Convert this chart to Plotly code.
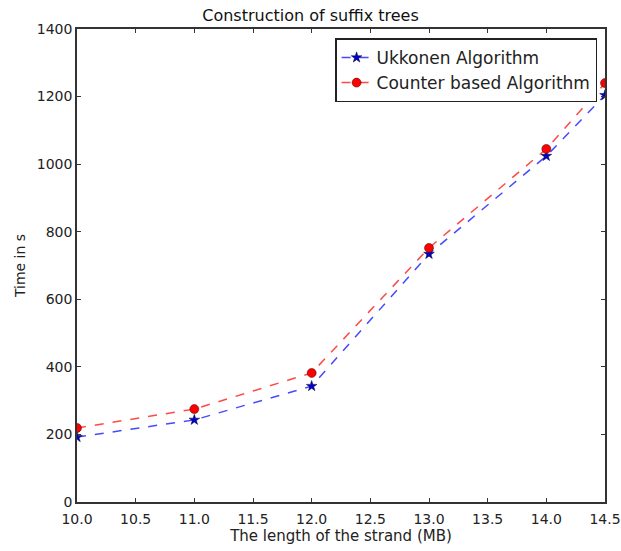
import plotly.graph_objects as go

x_len = [10, 11, 12, 13, 14, 14.5]
ukkonen = [192, 243, 343, 734, 1024, 1204]
counter = [219, 275, 382, 752, 1045, 1240]
x_ticks = [10.0, 10.5, 11.0, 11.5, 12.0, 12.5, 13.0, 13.5, 14.0, 14.5]
y_ticks = [0, 200, 400, 600, 800, 1000, 1200, 1400]

fig = go.Figure()
fig.add_trace(go.Scatter(
    x=x_len, y=ukkonen, mode="lines+markers", name="Ukkonen Algorithm",
    line=dict(color="rgba(40,40,255,0.85)", dash="dash", width=1.5),
    marker=dict(symbol="star", size=8, color="#0000cc", line=dict(color="#000033", width=0.5)),
))
fig.add_trace(go.Scatter(
    x=x_len, y=counter, mode="lines+markers", name="Counter based Algorithm",
    line=dict(color="rgba(255,40,40,0.85)", dash="dash", width=1.5),
    marker=dict(symbol="circle", size=9, color="#ff0000", line=dict(color="#330000", width=0.5)),
))

axis_common = dict(
    showline=True, linecolor="#333333", linewidth=1.5, mirror="ticks",
    ticks="inside", ticklen=4, tickcolor="#333333", showgrid=False, zeroline=False,
    automargin=False,
    tickfont=dict(family="DejaVu Sans", size=14, color="#222222"),
)
fig.update_xaxes(range=[10, 14.5], tickvals=x_ticks, ticktext=[f"{v:.1f}" for v in x_ticks],
                 ticklabelstandoff=3,
                 title=dict(text="The length of the strand (MB)", font=dict(family="DejaVu Sans", size=15, color="#222222"), standoff=5),
                 **axis_common)
fig.update_yaxes(range=[0, 1400], tickvals=y_ticks,
                 title=dict(text="Time in s", font=dict(family="DejaVu Sans", size=14, color="#222222"), standoff=8),
                 **axis_common)
fig.update_layout(
    width=621, height=551,
    margin=dict(l=77, r=16, t=29, b=49),
    paper_bgcolor="white", plot_bgcolor="white",
    title=dict(text="Construction of suffix trees", x=0.5, xanchor="center", y=1 - 15 / 551, yanchor="middle",
               font=dict(family="DejaVu Sans", size=16, color="#111111")),
    legend=dict(x=0.985, y=0.98, xanchor="right", yanchor="top",
                bordercolor="#222222", borderwidth=1.5, bgcolor="white",
                font=dict(family="DejaVu Sans", size=17, color="#222222")),
    showlegend=True,
)
fig.write_html("out.html", config={"displayModeBar": False},
               post_script="document.body.style.margin='0';document.body.style.overflow='hidden';")
